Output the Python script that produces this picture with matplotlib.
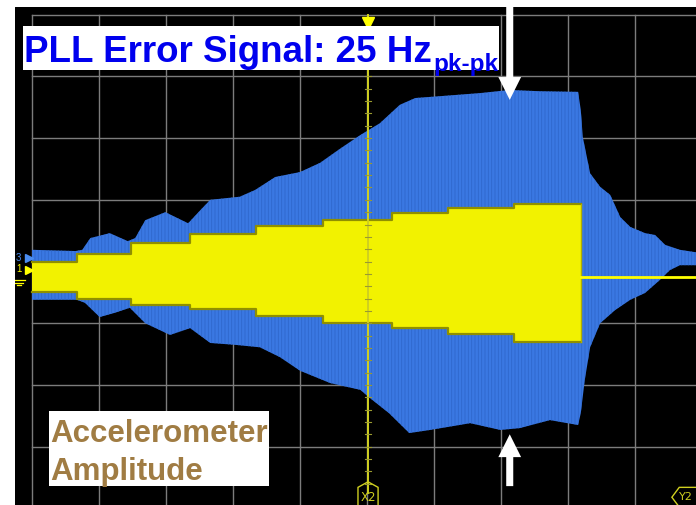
import matplotlib
matplotlib.use('Agg')
import matplotlib.pyplot as plt
from matplotlib.patches import Rectangle, FancyArrow, Polygon

plt.rcParams['font.family'] = ['Liberation Sans', 'DejaVu Sans']
plt.rcParams['hatch.linewidth'] = 0.6

W, H = 696, 505

# ---- data (oscilloscope divisions) ----
# Accelerometer amplitude (yellow): staircase envelope
acc_step_x = [0.00, 0.67, 1.48, 2.36, 3.34, 4.34, 5.37, 6.21, 7.19, 8.19]
acc_top = [-0.01, 0.12, 0.30, 0.45, 0.58, 0.67, 0.79, 0.87, 0.93]
acc_bot = [-0.49, -0.61, -0.70, -0.77, -0.88, -1.00, -1.08, -1.17, -1.30]
acc_rest_x = [8.19, 9.91]
acc_rest_level = -0.25

# PLL error signal (blue): upper and lower envelope
pll_top_x = [0.00, 0.65, 0.75, 0.87, 1.16, 1.43, 1.54, 1.69, 1.99, 2.33, 2.51, 2.66, 3.10,
             3.33, 3.63, 4.00, 4.30, 4.60, 4.90, 5.19, 5.49, 5.72, 6.09, 6.69, 7.13, 7.58,
             8.15, 8.19, 8.22, 8.33, 8.48, 8.63, 8.78, 8.93, 9.15, 9.30, 9.45, 9.67, 9.91]
pll_top = [0.19, 0.17, 0.19, 0.38, 0.46, 0.33, 0.38, 0.67, 0.80, 0.62, 0.83, 1.00, 1.05,
           1.16, 1.37, 1.45, 1.60, 1.83, 2.05, 2.24, 2.54, 2.65, 2.68, 2.73, 2.78, 2.76,
           2.75, 2.46, 2.02, 1.43, 1.21, 1.08, 0.72, 0.56, 0.46, 0.43, 0.27, 0.19, 0.15]
pll_bot_x = [0.00, 0.67, 0.79, 1.01, 1.24, 1.46, 1.69, 2.06, 2.36, 2.66, 3.03, 3.40, 3.70,
             4.00, 4.45, 4.90, 5.04, 5.33, 5.63, 5.94, 6.54, 6.99, 7.28, 7.73, 8.15, 8.19,
             8.25, 8.33, 8.48, 8.70, 8.93, 9.15, 9.37, 9.52, 9.67, 9.91]
pll_bot = [-0.62, -0.62, -0.67, -0.90, -0.83, -0.75, -1.00, -1.19, -1.08, -1.32, -1.35, -1.39, -1.55,
           -1.77, -1.97, -2.08, -2.21, -2.46, -2.78, -2.73, -2.62, -2.73, -2.70, -2.57, -2.65, -2.46,
           -1.92, -1.39, -1.00, -0.79, -0.62, -0.51, -0.30, -0.14, -0.06, -0.06]

cursor_x = 5.015
title_main = "PLL Error Signal: 25 Hz"
title_sub = "pk-pk"
acc_label = "Accelerometer\nAmplitude"

# ---- figure ----
fig = plt.figure(figsize=(W / 100, H / 100), dpi=100)
fig.patch.set_facecolor('white')
ax = fig.add_axes([15 / W, 0, 681 / W, 498 / H])
ax.set_facecolor('black')
ax.set_xlim(-0.254, 9.91)
ax.set_ylim(-3.946, 4.125)
ax.axis('off')
ax.add_patch(Rectangle((0, 0), 1, 1, transform=ax.transAxes, color='black', zorder=0))

# grid
for gx in range(0, 11):
    ax.plot([gx, gx], [-5, 3.99], color='#7c7c7c', lw=1.0, zorder=1)
for gy in range(-4, 5):
    yy = min(gy, 3.99)
    ax.plot([0, 11], [yy, yy], color='#7c7c7c', lw=1.0, zorder=1)

# blue PLL error envelope
poly_x = list(pll_top_x) + list(reversed(pll_bot_x))
poly_y = list(pll_top) + list(reversed(pll_bot))
ax.fill(poly_x, poly_y, facecolor='#3a78e2', edgecolor='#2f67cc', linewidth=0,
        hatch='|||||', zorder=2)

# yellow accelerometer staircase
sx = acc_step_x
st = acc_top + [acc_top[-1]]
sb = acc_bot + [acc_bot[-1]]
ax.fill_between(sx, sb, st, step='post', facecolor='#f2f200', edgecolor='none', zorder=3)
ax.step(sx, st, where='post', color='#8f8f00', lw=1.6, zorder=3)
ax.step(sx, sb, where='post', color='#8f8f00', lw=1.6, zorder=3)
ax.plot([acc_step_x[-1]] * 2, [acc_bot[-1], acc_top[-1]], color='#b0b000', lw=1.0, zorder=3)
ax.plot(acc_rest_x, [acc_rest_level] * 2, color='#ffff00', lw=2.0, zorder=3)

# cursor line with ticks
ax.plot([cursor_x, cursor_x], [-3.75, 3.99], color='#d0d020', lw=1.4, zorder=4)
for i in range(-18, 20):
    ty = i * 0.2
    ax.plot([cursor_x - 0.045, cursor_x + 0.045], [ty, ty], color='#9a9a30', lw=0.8, zorder=4)
ax.plot([cursor_x], [3.87], marker='v', color='#ffff00', markersize=8, zorder=5)

# X2 / Y2 markers
ax.add_patch(Polygon([(cursor_x - 0.15, -3.98), (cursor_x - 0.15, -3.66), (cursor_x, -3.57),
                      (cursor_x + 0.15, -3.66), (cursor_x + 0.15, -3.98)],
                     closed=True, fill=False, edgecolor='#d0d020', lw=1.0, zorder=5))
ax.text(cursor_x, -3.82, 'X2', color='#d0d020', fontsize=8.5, ha='center', va='center',
        family=['DejaVu Sans'], zorder=6)
ax.add_patch(Polygon([(9.95, -3.66), (9.66, -3.66), (9.55, -3.82), (9.66, -3.98), (9.95, -3.98)],
                     closed=True, fill=False, edgecolor='#d0d020', lw=1.0, zorder=5))
ax.text(9.66, -3.82, 'Y2', color='#d0d020', fontsize=8, ha='left', va='center',
        family=['DejaVu Sans'], zorder=6)

# left channel markers
ax.plot([-0.05], [0.06], marker='>', color='#4a8cf0', markersize=6, zorder=5)
ax.plot([-0.05], [-0.13], marker='>', color='#ffff00', markersize=6, zorder=5)
ax.text(-0.2, 0.06, '3', color='#4a8cf0', fontsize=7, ha='center', va='center', zorder=5)
ax.text(-0.2, -0.12, '1', color='#ffff00', fontsize=7, ha='center', va='center', zorder=5)
for k, half in enumerate([0.09, 0.06, 0.03]):
    ax.plot([-0.2 - half, -0.2 + half], [-0.30 - 0.04 * k] * 2, color='#ffff00', lw=0.9, zorder=5)

# white arrows
ax.add_patch(FancyArrow(7.13, 4.4, 0, -1.78, width=0.105, head_width=0.34, head_length=0.37,
                        length_includes_head=True, color='white', lw=0, zorder=7))
ax.add_patch(FancyArrow(7.13, -3.64, 0, 0.84, width=0.105, head_width=0.34, head_length=0.37,
                        length_includes_head=True, color='white', lw=0, zorder=7))

# text boxes
def fx(px):
    return px / W

def fy(py):
    return 1 - py / H

fig.patches.append(Rectangle((fx(23), fy(70)), 476 / W, 44 / H, transform=fig.transFigure,
                             facecolor='white', edgecolor='none', zorder=8))
t1 = fig.text(fx(24), fy(62.5), title_main, color='#0000ee', fontsize=26.5, fontweight='bold',
              ha='left', va='baseline', zorder=9)
fig.canvas.draw()
bb = t1.get_window_extent()
fig.text((bb.x1 + 1) / W, fy(71), title_sub, color='#0000ee', fontsize=17.5, fontweight='bold',
         ha='left', va='baseline', zorder=9)

fig.patches.append(Rectangle((fx(49), fy(486)), 220 / W, 75 / H, transform=fig.transFigure,
                             facecolor='white', edgecolor='none', zorder=8))
fig.text(fx(50), fy(442), acc_label.split('\n')[0], color='#a07c43', fontsize=22.5,
         fontweight='bold', ha='left', va='baseline', zorder=9)
fig.text(fx(50), fy(480), acc_label.split('\n')[1], color='#a07c43', fontsize=22.5,
         fontweight='bold', ha='left', va='baseline', zorder=9)

fig.savefig('out.png', dpi=100, facecolor='white')
